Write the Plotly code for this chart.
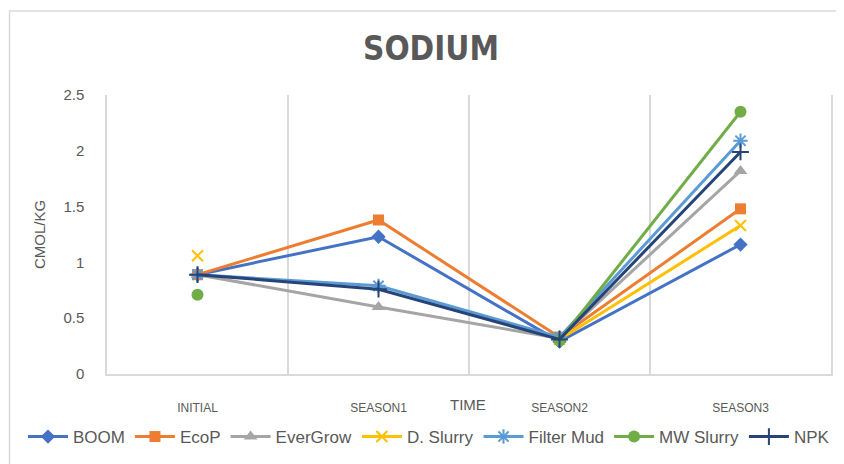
import plotly.graph_objects as go

categories = ["INITIAL", "SEASON1", "SEASON2", "SEASON3"]
y_ticks = [0, 0.5, 1, 1.5, 2, 2.5]

boom = [0.89, 1.23, 0.29, 1.16]
ecop = [0.89, 1.38, 0.33, 1.48]
evergrow = [0.89, 0.60, 0.32, 1.82]
d_slurry = [1.06, None, 0.31, 1.33]
filter_mud = [0.89, 0.79, 0.33, 2.09]
mw_slurry = [0.71, None, 0.30, 2.35]
npk = [0.89, 0.76, 0.31, 1.99]

series = [
    ("BOOM", boom, "#4472C4", "diamond", 11, False),
    ("EcoP", ecop, "#ED7D31", "square", 11, False),
    ("EverGrow", evergrow, "#A5A5A5", "triangle-up", 12, False),
    ("D. Slurry", d_slurry, "#FFC000", "x-thin-open", 11, True),
    ("Filter Mud", filter_mud, "#5B9BD5", "asterisk-open", 12, True),
    ("MW Slurry", mw_slurry, "#70AD47", "circle", 12, False),
    ("NPK", npk, "#264478", "cross-thin-open", 12, True),
]

TXT = "#595959"
GRID = "#D9D9D9"

fig = go.Figure()
for name, vals, color, sym, size, open_ in series:
    fig.add_trace(go.Scatter(
        x=categories, y=vals, name=name, mode="lines+markers",
        line=dict(color=color, width=3),
        marker=dict(symbol=sym, size=size, color=color,
                    line=dict(color=color, width=2 if open_ else 0)),
        connectgaps=False,
    ))

fig.update_layout(
    width=844, height=464,
    margin=dict(l=99, r=21, t=87, b=98, autoexpand=False),
    paper_bgcolor="white", plot_bgcolor="white",
    font=dict(family="Liberation Sans, Arial, sans-serif", color=TXT),
    title=dict(text="<b>SODIUM</b>", x=0.4475, xref="paper", xanchor="center",
               y=1 - 40 / 464, yref="container", yanchor="middle",
               font=dict(family="DejaVu Sans Condensed, Liberation Sans Narrow, sans-serif",
                         size=33, color=TXT)),
    showlegend=True,
    legend=dict(orientation="h", x=(23 - 107) / 724, xanchor="left",
                y=(374 - 437) / 279, yanchor="middle",
                font=dict(size=17, color=TXT), itemwidth=40,
                bgcolor="rgba(0,0,0,0)"),
    xaxis=dict(type="category", tickson="boundaries", showgrid=True, gridcolor=GRID,
               gridwidth=1.5, showline=True, linecolor=GRID, linewidth=1.5,
               ticks="", ticklabelstandoff=22, range=[-0.5, 3.5],
               tickfont=dict(size=12, color=TXT), zeroline=False),
    yaxis=dict(range=[0, 2.5], tickvals=y_ticks, showgrid=False, zeroline=False,
               showline=True, linecolor=GRID, linewidth=1.5, mirror=True,
               ticks="", ticklabelstandoff=18,
               tickfont=dict(size=15, color=TXT),
               title=dict(text="CMOL/KG", font=dict(size=15, color=TXT), standoff=14)),
    shapes=[dict(type="rect", xref="paper", yref="paper",
                 x0=(9.5 - 107) / 724, x1=(870 - 107) / 724,
                 y0=(374 - 490) / 279, y1=(374 - 11) / 279,
                 line=dict(color=GRID, width=1.5), fillcolor="rgba(0,0,0,0)", layer="below")],
    annotations=[dict(text="TIME", xref="paper", yref="paper",
                      x=(468 - 107) / 724, y=(374 - 404) / 279,
                      xanchor="center", yanchor="middle", showarrow=False,
                      font=dict(size=15, color=TXT))],
)

fig.write_html("out.html")
